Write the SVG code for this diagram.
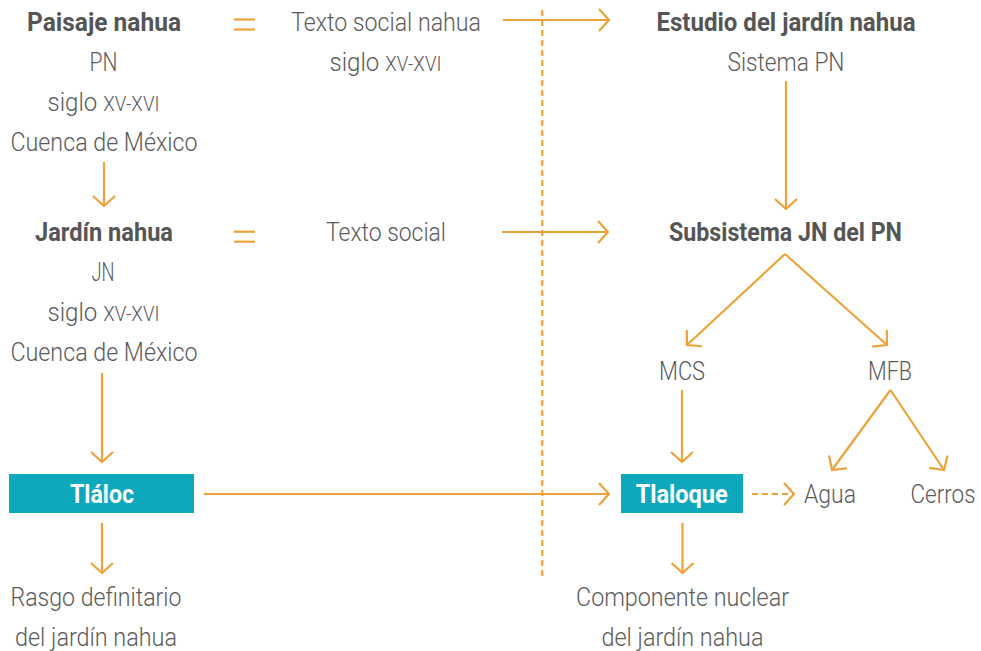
<svg xmlns="http://www.w3.org/2000/svg" width="981" height="651" viewBox="0 0 981 651">
<style>
text{font-family:Roboto,"Liberation Sans",sans-serif;font-size:25px;fill:#5b5b5b;font-weight:300;text-anchor:middle}
.b{font-weight:700;fill:#555}
.w{font-weight:700;fill:#fff}
.sc{font-size:19.5px}
.ln{stroke:#EDA23A;stroke-width:2.2;fill:none}
.dash{stroke-dasharray:6,4}
.box{fill:#0EA8BC}
</style>
<defs>
<marker id="ah" viewBox="0 0 12 24" refX="11" refY="12" markerWidth="12" markerHeight="24" markerUnits="userSpaceOnUse" orient="auto">
<path d="M1,1 L11,12 L1,23" fill="none" stroke="#EDA23A" stroke-width="2.2"/>
</marker>
</defs>
<g id="connectors">
<line class="ln dash" x1="542.3" y1="10" x2="542.3" y2="576"/>
<line class="ln" x1="234" y1="19.5" x2="255" y2="19.5"/>
<line class="ln" x1="234" y1="29.5" x2="255" y2="29.5"/>
<line class="ln" x1="234" y1="231.7" x2="255" y2="231.7"/>
<line class="ln" x1="234" y1="241.7" x2="255" y2="241.7"/>
<line class="ln" x1="503" y1="20" x2="609" y2="20" marker-end="url(#ah)"/>
<line class="ln" x1="502" y1="232" x2="608" y2="232" marker-end="url(#ah)"/>
<line class="ln" x1="104" y1="162" x2="104" y2="206" marker-end="url(#ah)"/>
<line class="ln" x1="786" y1="81" x2="786" y2="209" marker-end="url(#ah)"/>
<line class="ln" x1="785" y1="254" x2="687" y2="345" marker-end="url(#ah)"/>
<line class="ln" x1="785" y1="254" x2="887" y2="345" marker-end="url(#ah)"/>
<line class="ln" x1="102" y1="373" x2="102" y2="462" marker-end="url(#ah)"/>
<line class="ln" x1="682" y1="390" x2="682" y2="462" marker-end="url(#ah)"/>
<line class="ln" x1="890.5" y1="390" x2="832" y2="470" marker-end="url(#ah)"/>
<line class="ln" x1="890.5" y1="390" x2="944" y2="470" marker-end="url(#ah)"/>
<line class="ln" x1="204" y1="494" x2="609" y2="494" marker-end="url(#ah)"/>
<line class="ln dash" x1="752" y1="494" x2="794" y2="494" marker-end="url(#ah)"/>
<line class="ln" x1="102" y1="523" x2="102" y2="573" marker-end="url(#ah)"/>
<line class="ln" x1="682.5" y1="523" x2="682.5" y2="573" marker-end="url(#ah)"/>
</g>
<g id="paisaje">
<text class="b" x="104" y="31" textLength="154" lengthAdjust="spacingAndGlyphs">Paisaje nahua</text>
<text x="103.5" y="71" textLength="28" lengthAdjust="spacingAndGlyphs">PN</text>
<text x="103.5" y="111" textLength="112" lengthAdjust="spacingAndGlyphs">siglo <tspan class="sc">XV-XVI</tspan></text>
<text x="104" y="151" textLength="187" lengthAdjust="spacingAndGlyphs">Cuenca de México</text>
</g>
<g id="texto-social-nahua">
<text x="386" y="31" textLength="190" lengthAdjust="spacingAndGlyphs">Texto social nahua</text>
<text x="385.5" y="71" textLength="112" lengthAdjust="spacingAndGlyphs">siglo <tspan class="sc">XV-XVI</tspan></text>
</g>
<g id="estudio">
<text class="b" x="786" y="31" textLength="259" lengthAdjust="spacingAndGlyphs">Estudio del jardín nahua</text>
<text x="786" y="71" textLength="117" lengthAdjust="spacingAndGlyphs">Sistema PN</text>
</g>
<g id="jardin">
<text class="b" x="104" y="241" textLength="138" lengthAdjust="spacingAndGlyphs">Jardín nahua</text>
<text x="103" y="281" textLength="23" lengthAdjust="spacingAndGlyphs">JN</text>
<text x="103.5" y="321" textLength="112" lengthAdjust="spacingAndGlyphs">siglo <tspan class="sc">XV-XVI</tspan></text>
<text x="104" y="361" textLength="187" lengthAdjust="spacingAndGlyphs">Cuenca de México</text>
</g>
<g id="texto-social">
<text x="386" y="241" textLength="120" lengthAdjust="spacingAndGlyphs">Texto social</text>
</g>
<g id="subsistema">
<text class="b" x="785.5" y="241" textLength="233" lengthAdjust="spacingAndGlyphs">Subsistema JN del PN</text>
</g>
<g id="mcs"><text x="682" y="380" textLength="46" lengthAdjust="spacingAndGlyphs">MCS</text></g>
<g id="mfb"><text x="890" y="380" textLength="44" lengthAdjust="spacingAndGlyphs">MFB</text></g>
<g id="tlaloc">
<rect class="box" x="9" y="474" width="185" height="39"/>
<text class="w" x="102" y="503" textLength="64" lengthAdjust="spacingAndGlyphs">Tláloc</text>
</g>
<g id="tlaloque">
<rect class="box" x="621" y="474" width="122" height="39"/>
<text class="w" x="681.7" y="503" textLength="92" lengthAdjust="spacingAndGlyphs">Tlaloque</text>
</g>
<g id="agua"><text x="830" y="503" textLength="52" lengthAdjust="spacingAndGlyphs">Agua</text></g>
<g id="cerros"><text x="943" y="503" textLength="65" lengthAdjust="spacingAndGlyphs">Cerros</text></g>
<g id="rasgo">
<text x="96" y="606" textLength="171" lengthAdjust="spacingAndGlyphs">Rasgo definitario</text>
<text x="96" y="646" textLength="162" lengthAdjust="spacingAndGlyphs">del jardín nahua</text>
</g>
<g id="componente">
<text x="682.5" y="606" textLength="213" lengthAdjust="spacingAndGlyphs">Componente nuclear</text>
<text x="682.5" y="646" textLength="162" lengthAdjust="spacingAndGlyphs">del jardín nahua</text>
</g>
</svg>
